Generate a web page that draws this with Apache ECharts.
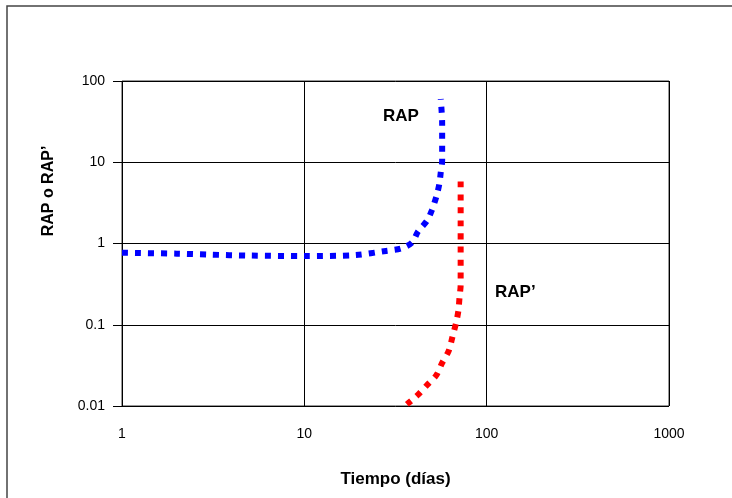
<!DOCTYPE html>
<html>
<head>
<meta charset="utf-8">
<title>RAP o RAP'</title>
<script src="https://cdn.jsdelivr.net/npm/echarts@6/dist/echarts.min.js"></script>
<style>
  html, body { margin: 0; padding: 0; background: #fff; }
  #main { width: 732px; height: 498px; }
</style>
</head>
<body>
<div id="main"></div>
<script>
// Curva RAP (azul)
var rapTiempo = [1, 2, 3, 5, 10, 19, 28, 34, 39, 42, 47, 50, 53, 55, 56, 57, 57, 56];
var rapValor = [0.77, 0.75, 0.73, 0.71, 0.70, 0.72, 0.81, 0.87, 1.03, 1.4, 1.9, 2.55, 3.8, 5.4, 7.5, 10.5, 30, 60];

// Curva RAP' (roja)
var rapPTiempo = [72, 72, 71, 70, 68, 65, 62, 57, 53, 47, 41.5, 36.5];
var rapPValor = [5.8, 0.31, 0.22, 0.15, 0.106, 0.072, 0.048, 0.034, 0.024, 0.018, 0.0134, 0.0105];

// etiquetas de los ejes
var ejeX = [1, 10, 100, 1000];
var ejeY = [0.01, 0.1, 1, 10, 100];

function pares(xs, ys) {
    var out = [];
    for (var i = 0; i < xs.length; i++) {
        out.push([xs[i], ys[i]]);
    }
    return out;
}

var myChart = echarts.init(document.getElementById('main'));

var fuente = 'Liberation Sans, Arial, sans-serif';

var option = {
    animation: false,
    backgroundColor: '#fff',
    grid: {
        left: 122,
        top: 81,
        width: 547,
        height: 325,
        show: true,
        borderColor: '#333',
        borderWidth: 1
    },
    xAxis: {
        type: 'log',
        logBase: 10,
        min: ejeX[0],
        max: ejeX[ejeX.length - 1],
        name: 'Tiempo (días)',
        nameLocation: 'middle',
        nameGap: 65,
        nameTextStyle: { fontFamily: fuente, fontWeight: 'bold', fontSize: 17, color: '#000' },
        axisLine: { show: false },
        axisTick: { show: false },
        axisLabel: {
            fontFamily: fuente, fontSize: 14, color: '#000', margin: 21,
            formatter: function (v) { return String(v); }
        },
        splitLine: { show: true, lineStyle: { color: '#000', width: 1 } }
    },
    yAxis: {
        type: 'log',
        logBase: 10,
        min: ejeY[0],
        max: ejeY[ejeY.length - 1],
        axisLine: { show: false },
        axisTick: { show: true, length: 9, lineStyle: { color: '#000' } },
        axisLabel: {
            fontFamily: fuente, fontSize: 14, color: '#000', margin: 17,
            formatter: function (v) { return String(v); }
        },
        splitLine: { show: true, lineStyle: { color: '#000', width: 1 } }
    },
    graphic: [
        // marco exterior
        {
            type: 'polyline',
            shape: { points: [[7, 498], [7, 6], [732, 6]] },
            style: { stroke: '#444', lineWidth: 1.5, fill: null }
        },
        {
            type: 'text',
            left: 383,
            top: 108,
            style: { text: 'RAP', font: 'bold 17px ' + fuente, fill: '#000' }
        },
        {
            type: 'text',
            left: 495,
            top: 284,
            style: { text: 'RAP’', font: 'bold 17px ' + fuente, fill: '#000' }
        },
        {
            type: 'text',
            x: 49,
            y: 191,
            rotation: Math.PI / 2,
            style: {
                text: 'RAP o RAP’',
                font: 'bold 16px ' + fuente,
                fill: '#000',
                align: 'center',
                verticalAlign: 'middle'
            }
        }
    ],
    series: [
        {
            name: 'RAP',
            type: 'line',
            data: pares(rapTiempo, rapValor),
            showSymbol: false,
            smooth: 0.3,
            lineStyle: { color: '#0000ff', width: 6, type: [6, 7], cap: 'butt' }
        },
        {
            name: 'RAP’',
            type: 'line',
            data: pares(rapPTiempo, rapPValor),
            showSymbol: false,
            smooth: 0.3,
            lineStyle: { color: '#ff0000', width: 6, type: [6, 7], cap: 'butt' }
        }
    ]
};

myChart.setOption(option);
</script>
</body>
</html>
